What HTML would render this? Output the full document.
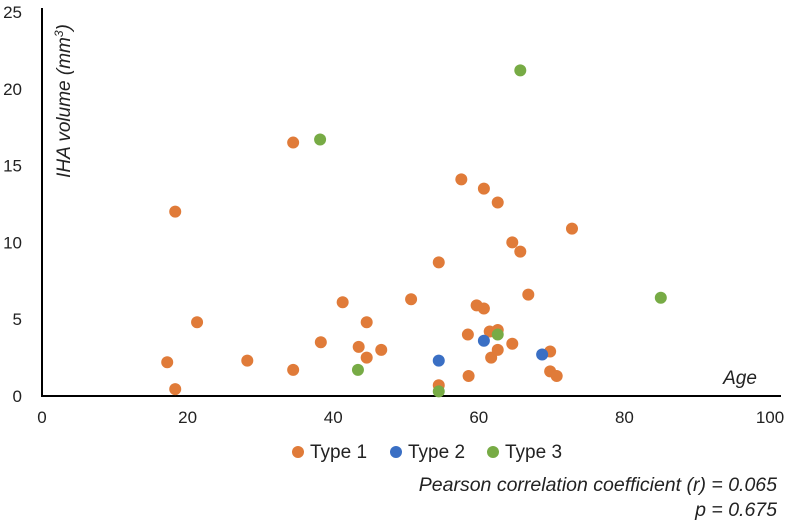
<!DOCTYPE html>
<html><head><meta charset="utf-8"><style>
body{margin:0;background:#fff;font-family:"Liberation Sans",sans-serif;}
svg text{font-family:"Liberation Sans",sans-serif;fill:#222}
</style></head><body>
<svg width="800" height="525">
<g id="axes"></g><g id="pts"></g>
<text x="740" y="384" font-size="19" font-style="italic" text-anchor="middle">Age</text>
<text transform="translate(70,101) rotate(-90)" font-size="19" font-style="italic" text-anchor="middle">IHA volume (mm<tspan font-size="12" dy="-7">3</tspan><tspan dy="7">)</tspan></text>
<g>
<g><circle cx="298" cy="452" r="6" fill="#e07b39"/><text x="310" y="458" font-size="19">Type 1</text></g>
<g><circle cx="396" cy="452" r="6" fill="#3a6fc4"/><text x="408" y="458" font-size="19">Type 2</text></g>
<g><circle cx="493" cy="452" r="6" fill="#77ab45"/><text x="505" y="458" font-size="19">Type 3</text></g>
</g>
<text x="777" y="491" font-size="19.5" font-style="italic" text-anchor="end">Pearson correlation coefficient (r) = 0.065</text>
<text x="777" y="516" font-size="19.5" font-style="italic" text-anchor="end">p = 0.675</text>
</svg>
<script>
const xTicks=[0,20,40,60,80,100];
const yTicks=[0,5,10,15,20,25];
const type1Age=[17.2,18.3,18.3,21.3,28.2,34.5,34.5,38.3,41.3,43.5,44.6,44.6,46.6,50.7,54.5,54.5,57.6,58.5,58.6,59.7,60.7,60.7,61.5,61.7,62.6,62.6,62.6,64.6,64.6,65.7,66.8,69.8,69.8,70.7,72.8];
const type1Vol=[2.2,0.45,12.0,4.8,2.3,1.7,16.5,3.5,6.1,3.2,4.8,2.5,3.0,6.3,8.7,0.7,14.1,4.0,1.3,5.9,13.5,5.7,4.2,2.5,12.6,4.3,3.0,3.4,10.0,9.4,6.6,2.9,1.6,1.3,10.9];
const type2Age=[54.5,60.7,68.7];
const type2Vol=[2.3,3.6,2.7];
const type3Age=[38.2,43.4,54.5,62.6,65.7,85];
const type3Vol=[16.7,1.7,0.3,4.0,21.2,6.4];
const NS="http://www.w3.org/2000/svg";
const X=v=>42+v*7.28, Y=v=>396-v*15.36;
const ax=document.getElementById('axes'), pts=document.getElementById('pts');
function mk(t,a,p){const e=document.createElementNS(NS,t);for(const k in a)e.setAttribute(k,a[k]);p.appendChild(e);return e;}
const yl=mk('line',{x1:42,y1:8,x2:42,y2:397,stroke:'#000','stroke-width':2},ax);


const xl=mk('line',{x1:41,y1:396,x2:781,y2:396,stroke:'#000','stroke-width':2},ax);


xTicks.forEach(t=>{const e=mk('text',{x:X(t),y:423,'font-size':17,'text-anchor':'middle'},ax);e.textContent=t;

});
yTicks.forEach(t=>{const e=mk('text',{x:22,y:Y(t)+6,'font-size':17,'text-anchor':'end'},ax);e.textContent=t;

});
function series(ages,vols,col,name){ages.forEach((a,i)=>{const c=mk('circle',{cx:X(a),cy:Y(vols[i]),r:6,fill:col},pts);

});}
series(type1Age,type1Vol,'#e07b39','type1-point');
series(type2Age,type2Vol,'#3a6fc4','type2-point');
series(type3Age,type3Vol,'#77ab45','type3-point');
</script>
</body></html>
